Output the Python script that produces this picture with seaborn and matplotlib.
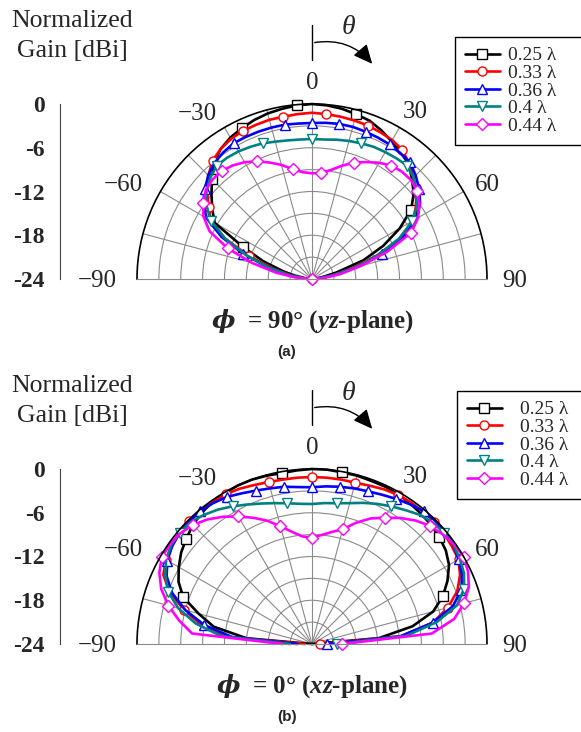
import numpy as np
import pandas as pd
import matplotlib
matplotlib.use("Agg")
import matplotlib.pyplot as plt
import seaborn as sns
from matplotlib.lines import Line2D
from matplotlib.patches import FancyArrowPatch
from matplotlib.ticker import MultipleLocator, FixedLocator

sns.set_style("white")
plt.rcParams["font.family"] = ["Liberation Serif", "DejaVu Serif"]
plt.rcParams["mathtext.fontset"] = "custom"
plt.rcParams["mathtext.rm"] = "Liberation Serif:bold"
plt.rcParams["mathtext.it"] = "Liberation Serif:italic:bold"
plt.rcParams["mathtext.bf"] = "Liberation Serif:bold"
plt.rcParams["mathtext.sf"] = "DejaVu Serif:italic:bold"

# ---------------------------------------------------------------- data
theta_deg = np.arange(-90, 91, 5)          # elevation angle theta [deg]
series_labels = ["0.25 λ", "0.33 λ", "0.36 λ", "0.4 λ", "0.44 λ"]
series_colors = ["#000000", "#ff0000", "#0000ff", "#008080", "#ff00ff"]
series_markers = ["s", "o", "^", "v", "D"]

# phi = 90 deg (yz-plane), normalized gain [dB]
yz_025 = [-24.0, -23.0, -21.7, -19.9, -16.9, -13.5, -8.6, -7.3, -6.0, -4.6, -3.1, -2.2, -1.6,
          -1.2, -0.8, -0.5, -0.3, -0.1, 0.0, -0.1, -0.3, -0.6, -0.9, -1.5, -2.2, -2.8,
          -3.4, -4.6, -5.8, -7.4, -10.1, -13.2, -16.5, -20.5, -22.5, -23.5, -24.0]
yz_033 = [-24.0, -22.8, -21.0, -18.5, -14.8, -10.8, -8.0, -6.7, -5.2, -3.9, -2.8, -2.2, -1.8,
          -1.6, -1.5, -1.4, -1.4, -1.3, -1.2, -1.3, -1.4, -1.5, -1.6, -1.8, -2.0, -2.4,
          -3.3, -4.3, -5.3, -6.6, -8.0, -10.2, -14.5, -18.3, -21.2, -23.0, -24.0]
yz_036 = [-24.0, -22.6, -20.6, -17.8, -14.0, -10.3, -7.3, -5.8, -4.8, -3.9, -3.2, -2.8, -2.5,
          -2.5, -2.5, -2.5, -2.5, -2.6, -2.6, -2.5, -2.4, -2.4, -2.5, -2.6, -2.7, -2.9,
          -3.1, -3.9, -4.8, -5.9, -7.4, -10.0, -13.8, -17.8, -21.0, -23.0, -24.0]
yz_040 = [-24.0, -22.6, -20.6, -17.8, -14.3, -10.8, -8.0, -6.3, -5.1, -4.3, -3.7, -3.7, -3.8,
          -4.0, -4.2, -4.5, -4.7, -4.8, -4.8, -4.8, -4.6, -4.4, -4.2, -4.0, -3.9, -3.8,
          -3.7, -4.3, -5.3, -6.4, -8.1, -10.8, -14.3, -17.8, -21.0, -23.0, -24.0]
yz_044 = [-24.0, -21.8, -19.0, -15.5, -11.7, -8.5, -6.8, -5.8, -5.0, -4.7, -4.7, -5.0, -5.5,
          -6.2, -7.0, -7.8, -8.7, -9.3, -9.5, -9.4, -8.8, -7.9, -7.0, -6.3, -5.6, -5.0,
          -4.8, -4.8, -5.2, -6.0, -7.2, -9.0, -13.0, -17.0, -20.0, -22.3, -24.0]

# phi = 0 deg (xz-plane), normalized gain [dB]
xz_025 = [-24.0, -15.0, -10.3, -7.9, -5.2, -3.8, -2.9, -2.1, -1.5, -0.9, -0.5, -0.2, -0.1,
          0.0, 0.0, -0.1, -0.2, -0.1, 0.0, 0.0, -0.1, -0.1, -0.2, -0.2, -0.3, -0.5,
          -0.7, -0.9, -1.2, -1.6, -2.3, -3.5, -4.9, -6.8, -10.0, -14.8, -24.0]
xz_033 = [-23.0, -12.0, -8.5, -5.8, -3.2, -1.5, -0.9, -0.5, -0.3, -0.2, -0.2, -0.2, -0.3,
          -0.5, -0.8, -1.0, -1.1, -1.1, -1.1, -1.1, -1.1, -1.1, -0.9, -0.6, -0.4, -0.3,
          -0.3, -0.3, -0.4, -0.6, -0.8, -1.6, -2.8, -4.7, -7.2, -11.8, -22.9]
xz_036 = [-22.0, -13.0, -9.0, -6.0, -3.6, -2.0, -1.1, -0.6, -0.3, -0.2, -0.2, -0.4, -0.7,
          -1.2, -1.6, -1.9, -2.1, -2.4, -2.5, -2.3, -2.1, -1.9, -1.7, -1.4, -1.0, -0.6,
          -0.2, -0.1, -0.1, -0.3, -0.8, -1.3, -2.2, -4.0, -7.2, -11.8, -21.9]
xz_040 = [-21.0, -11.5, -7.8, -5.0, -3.0, -1.8, -0.9, -0.4, -0.3, -0.4, -0.9, -1.5, -2.2,
          -2.9, -3.5, -4.0, -4.4, -4.7, -4.8, -4.6, -4.4, -4.0, -3.4, -2.8, -2.2, -1.6,
          -0.9, -0.5, -0.3, -0.3, -0.6, -1.0, -1.8, -3.4, -6.6, -11.0, -20.6]
xz_044 = [-20.0, -7.5, -5.5, -3.6, -2.0, -0.9, -0.2, -0.2, -0.4, -0.9, -1.7, -2.7, -3.8,
          -4.9, -6.0, -7.3, -8.4, -9.2, -9.4, -9.0, -8.4, -7.7, -6.3, -5.0, -4.0, -2.9,
          -1.9, -1.1, -0.6, -0.2, 0.0, -0.4, -1.1, -2.4, -4.2, -7.5, -19.9]

# angles [deg] carrying a marker on each curve
yz_marks = [[-65, -45, -25, -5, 15, 55],
            [-70, -55, -40, -25, -10, 5, 20, 35, 90],
            [-70, -50, -30, -10, 0, 10, 20, 30, 40, 50, 70],
            [-60, -40, -20, 0, 20, 40, 60],
            [-90, -70, -55, -40, -25, -10, 5, 20, 35, 50, 65]]
xz_marks = [[-70, -50, -10, 10, 50, 70],
            [-75, -60, -45, -30, -15, 0, 15, 30, 45, 60, 75, 90],
            [-80, -60, -40, -30, -20, -10, 0, 10, 20, 30, 40, 60, 70, 80, 90],
            [-70, -50, -30, -10, 10, 30, 50, 70, 90],
            [-75, -60, -45, -30, -15, 0, 15, 30, 45, 60, 75, 90]]

r_ticks = [0, -6, -12, -18, -24]
r_tick_labels = ["0", "-6", "-12", "-18", "-24"]
theta_labels = ["\u221290", "\u221260", "\u221230", "0", "30", "60", "90"]

# ---------------------------------------------------------------- figure
W, H = 581, 732
fig = plt.figure(figsize=(W / 100, H / 100), dpi=100)

GRID = "#8a8a8a"


def frac(x0, y0, w, h):
    """pixel box (top-left origin) -> figure fraction rect"""
    return [x0 / W, 1 - (y0 + h) / H, w / W, h / H]


def polar_panel(cx, cy, R, curves, marks):
    # a half-disk wedge sits in the middle of a square polar box
    ax = fig.add_axes(frac(cx - R, cy - 1.5 * R, 2 * R, 2 * R), projection="polar")
    for vals, col, mk, mlist in zip(curves, series_colors, series_markers, marks):
        df = pd.DataFrame({"theta": np.deg2rad(theta_deg), "gain": vals})
        idx = [int(np.argmin(np.abs(theta_deg - a))) for a in mlist]
        sns.lineplot(data=df, x="theta", y="gain", ax=ax, color=col, lw=1.9,
                     marker=mk, markevery=idx, markersize=6.5,
                     markerfacecolor="white", markeredgecolor=col,
                     markeredgewidth=1.0, legend=False, sort=False,
                     estimator=None, clip_on=False)
    ax.set_theta_zero_location("N")
    ax.set_theta_direction(-1)
    ax.set_thetamin(-90)
    ax.set_thetamax(90)
    ax.set_rlim(-24, 0)
    ax.set_rticks(np.arange(-21, 0, 3))
    ax.set_yticklabels([])
    ax.set_xticks(np.deg2rad(np.arange(-75, 76, 15)))
    ax.set_xticklabels([])
    ax.tick_params(axis="x", length=0)
    ax.set_xlabel("")
    ax.set_ylabel("")
    ax.grid(True, color=GRID, lw=0.8)
    ax.set_axisbelow(True)
    ax.spines["polar"].set(color="black", lw=1.2)
    ax.spines["start"].set(color=GRID, lw=0.8)
    ax.spines["end"].set(color=GRID, lw=0.8)
    return ax


def gain_axis(x, ytop, R):
    ay = fig.add_axes(frac(x, ytop, 0.01, R))
    ay.set_ylim(-24, 0)
    ay.yaxis.set_major_locator(FixedLocator(r_ticks))
    ay.set_yticklabels(r_tick_labels, fontweight="bold", fontsize=17)
    ay.yaxis.set_minor_locator(MultipleLocator(3))
    ay.tick_params(axis="y", which="both", direction="out", length=5,
                   width=0.8, color="#444444", pad=6)
    ay.set_xticks([])
    for s in ("top", "right", "bottom"):
        ay.spines[s].set_visible(False)
    ay.spines["left"].set(color="#444444", lw=0.8)
    ay.patch.set_visible(False)
    return ay


panels = [
    dict(cy=279, curves=[yz_025, yz_033, yz_036, yz_040, yz_044], marks=yz_marks,
         title=r"$\mathsf{ϕ}$  = 90° ($\mathit{yz}$-plane)", tag="(a)",
         legend_left=455, legend_top=37, text_pad=0.45),
    dict(cy=644, curves=[xz_025, xz_033, xz_036, xz_040, xz_044], marks=xz_marks,
         title=r"$\mathsf{ϕ}$  = 0° ($\mathit{xz}$-plane)", tag="(b)",
         legend_left=457, legend_top=391, text_pad=0.95),
]

ov = fig.add_axes([0, 0, 1, 1])
ov.set_xlim(0, W)
ov.set_ylim(H, 0)
ov.axis("off")
ov.set_zorder(5)

cx, R = 312, 175
label_pos = [(-215, 0), (-189, -96), (-115, -167), (0, -198),
             (103, -169), (175, -96), (203, 0)]

for p in panels:
    cy = p["cy"]
    polar_panel(cx, cy, R, p["curves"], p["marks"])
    gain_axis(60, cy - R, R)

    top = cy - R
    ov.text(72, top - 68, "Normalized\nGain [dBi]", ha="center", va="center",
            fontsize=18.5, linespacing=1.5)
    for (dx, dy), t in zip(label_pos, theta_labels):
        ov.text(cx + dx, cy + dy + 2, t, ha="center", va="center", fontsize=18)

    # theta direction indicator
    ov.plot([cx, cx], [top - 79, top - 44], color="black", lw=1)
    ov.add_patch(FancyArrowPatch((cx, top - 61), (cx + 62, top - 38),
                                 connectionstyle="arc3,rad=-0.3",
                                 arrowstyle="-|>,head_length=0.65,head_width=0.3",
                                 mutation_scale=18, color="black", lw=1))
    ov.text(cx + 36, top - 76, "θ", ha="center", va="center", fontsize=20,
            style="italic")

    ov.text(cx, cy + 42, p["title"], ha="center", va="center", fontsize=18,
            fontweight="bold")
    ov.text(cx - 25, cy + 73, p["tag"], ha="center", va="center", fontsize=11,
            fontweight="bold", family="Liberation Sans")

    handles = [Line2D([], [], color=c, lw=1.9, marker=m, markersize=6.5,
                      markerfacecolor="white", markeredgecolor=c, markeredgewidth=1.0)
               for c, m in zip(series_colors, series_markers)]
    lt, ll = p["legend_top"], p["legend_left"]
    fig.legend(handles, series_labels, loc="upper left",
               bbox_to_anchor=(ll / W, 1 - (lt + 108) / H, 160 / W, 108 / H),
               mode="expand", borderaxespad=0, fontsize=14, frameon=True,
               fancybox=False, edgecolor="black", framealpha=1,
               handlelength=1.8, handletextpad=p["text_pad"], labelspacing=0.0,
               borderpad=0.5)

fig.savefig("out.png", dpi=100)
